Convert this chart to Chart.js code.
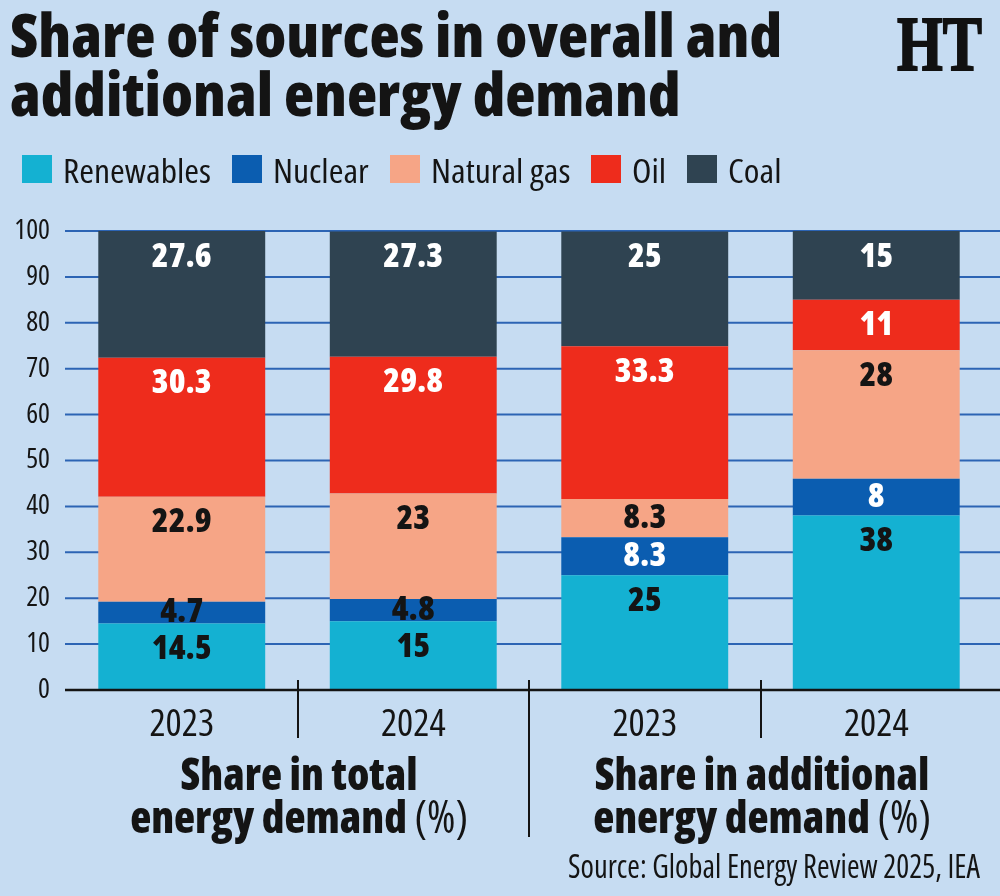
<!DOCTYPE html>
<html>
<head>
<meta charset="utf-8">
<script src="https://cdn.jsdelivr.net/npm/chart.js@4.4.1/dist/chart.umd.min.js"></script>
<style>
  html, body { margin: 0; padding: 0; background: #c6dcf2; }
  #wrap {
    position: relative; width: 1000px; height: 896px; overflow: hidden;
    background: #c6dcf2; color: #141414;
    font-family: "Open Sans", "Noto Sans", "Liberation Sans", sans-serif;
    font-stretch: condensed;
  }
  #chart { position: absolute; left: 0; top: 0; }
  .abs { position: absolute; white-space: nowrap; }
  .title { left: 10px; top: 0; font-weight: 800; font-size: 60px; line-height: 59px; transform-origin: left top; }
  .title span.line, .group span.line { display: block; }
  .logo { left: 897px; top: 0; font-family: "Liberation Serif", "DejaVu Serif", serif; font-weight: bold;
          font-size: 60px; line-height: 60px; color: #111; font-stretch: normal; -webkit-text-stroke: 1.5px #111; }
  .legend { left: 22px; top: 155px; display: flex; align-items: flex-start; font-size: 33px; line-height: 33px; }
  .legend .item { display: flex; align-items: flex-start; margin-right: 21px; }
  .legend .sw { width: 30px; height: 28px; margin-right: 11px; flex: none; }
  .legend .tw { display: inline-block; overflow: visible; }
  .legend .tx { display: inline-block; transform-origin: left top; }
  .group { top: 0; text-align: center; font-size: 45px; line-height: 43px; font-weight: 800; transform-origin: center top; }
  .group .unit { font-weight: 400; }
  .source { top: 0; font-size: 32px; line-height: 32px; transform-origin: left top; }
  #wrap .mk { display: inline-block; width: 0; height: 0; vertical-align: baseline; }
</style>
</head>
<body>
<div id="wrap">
  <canvas id="chart" width="1000" height="896"></canvas>
</div>
<script>
// ---------- data ----------
const categories = ['2023', '2024', '2023', '2024'];
const groupOf = [0, 0, 1, 1];
const groupTitles = ['Share in total', 'Share in additional'];
const groupSubtitle = 'energy demand';
const groupUnit = '(%)';

const seriesNames = ['Renewables', 'Nuclear', 'Natural gas', 'Oil', 'Coal'];
const renewables = [14.5, 15, 25, 38];
const nuclear    = [4.7, 4.8, 8.3, 8];
const naturalGas = [22.9, 23, 8.3, 28];
const oil        = [30.3, 29.8, 33.3, 11];
const coal       = [27.6, 27.3, 25, 15];

const yTicks = { min: 0, max: 100, step: 10 };

const titleLines = ['Share of sources in overall and', 'additional energy demand'];
const sourceText = 'Source: Global Energy Review 2025, IEA';
const logoText = 'HT';

// ---------- styles ----------
const seriesColors = ['#14b1d2', '#0b5db0', '#f6a586', '#ee2c1c', '#2f4351'];
const labelLight = [false, true, false, true, true];
const GRID = '#2c64b4';
const INK = '#141414';
const TICKFONT = '"Open Sans", "Liberation Sans", sans-serif';
const LABELFONT = '800 semi-condensed 34px "Open Sans", Roboto, sans-serif';

const seriesValues = [renewables, nuclear, naturalGas, oil, coal];
const wrap = document.getElementById('wrap');

// helpers
function el(tag, cls, parent) { const e = document.createElement(tag); if (cls) e.className = cls; (parent || wrap).appendChild(e); return e; }
function baselineOf(host) {
  const m = document.createElement('span'); m.className = 'mk';
  host.insertBefore(m, host.firstChild);
  const y = m.getBoundingClientRect().top - wrap.getBoundingClientRect().top;
  m.remove(); return y;
}
function setBaseline(node, target, host) {
  const b = baselineOf(host || node);
  node.style.top = (parseFloat(node.style.top || 0) + target - b) + 'px';
}

const gridPlugin = {
  id: 'gridPlugin',
  beforeDatasetsDraw(chart) {
    const { ctx, scales: { y } } = chart;
    ctx.save();
    ctx.strokeStyle = GRID; ctx.lineWidth = 2;
    y.ticks.forEach(t => {
      if (t.value === yTicks.min) return;
      const py = y.getPixelForValue(t.value);
      ctx.beginPath(); ctx.moveTo(65, py); ctx.lineTo(1000, py); ctx.stroke();
    });
    ctx.restore();
  },
  afterDatasetsDraw(chart) {
    const { ctx, scales: { x, y } } = chart;
    ctx.save();
    const p0 = y.getPixelForValue(yTicks.min);
    ctx.strokeStyle = INK; ctx.lineWidth = 2.5;
    ctx.beginPath(); ctx.moveTo(65, p0); ctx.lineTo(1000, p0); ctx.stroke();
    ctx.lineWidth = 2;
    for (let i = 0; i < categories.length - 1; i++) {
      const xm = Math.round((x.getPixelForValue(i) + x.getPixelForValue(i + 1)) / 2);
      const major = groupOf[i] !== groupOf[i + 1];
      ctx.beginPath(); ctx.moveTo(xm, p0 - 10); ctx.lineTo(xm, major ? p0 + 147 : p0 + 48); ctx.stroke();
    }
    ctx.font = LABELFONT;
    ctx.textAlign = 'center'; ctx.textBaseline = 'middle';
    chart.data.datasets.forEach((ds, di) => {
      const meta = chart.getDatasetMeta(di);
      meta.data.forEach((bar, i) => {
        const top = Math.min(bar.y, bar.base);
        const h = Math.abs(bar.base - bar.y);
        const ty = top + Math.min(26, h / 2);
        ctx.fillStyle = (labelLight[di] && h >= 30) ? '#ffffff' : INK;
        ctx.fillText(String(ds.data[i]), bar.x, ty);
      });
    });
    ctx.restore();
  }
};

const chart = new Chart(document.getElementById('chart'), {
  type: 'bar',
  data: {
    labels: categories,
    datasets: seriesNames.map((n, i) => ({
      label: n, data: seriesValues[i], backgroundColor: seriesColors[i],
      borderWidth: 0, barPercentage: 0.721, categoryPercentage: 1.0
    }))
  },
  options: {
    responsive: false, animation: false, devicePixelRatio: 1,
    layout: { padding: { top: 231, right: 8, bottom: 0, left: 0 } },
    plugins: { legend: { display: false }, tooltip: { enabled: false } },
    scales: {
      x: {
        stacked: true,
        grid: { display: false, drawTicks: false }, border: { display: false },
        ticks: { color: INK, font: { family: TICKFONT, size: 38, weight: 'condensed' }, padding: 12, maxRotation: 0, autoSkip: false },
        afterFit(s) { s.height = 206; }
      },
      y: {
        stacked: true, min: yTicks.min, max: yTicks.max,
        grid: { display: false, drawTicks: false }, border: { display: false },
        ticks: { stepSize: yTicks.step, color: INK, font: { family: TICKFONT, size: 28, weight: 'condensed' }, padding: 16 },
        afterFit(s) { s.width = 66; }
      }
    }
  },
  plugins: [gridPlugin]
});

// ---------- title ----------
const title = el('div', 'abs title');
titleLines.forEach(t => { const s = el('span', 'line', title); s.textContent = t; });
{
  const l1 = title.firstChild;
  l1.style.display = 'inline-block';
  const w = l1.getBoundingClientRect().width;
  l1.style.display = '';
  title.style.transform = `scaleX(${772 / w})`;
  setBaseline(title, 57, l1);
}

// ---------- logo ----------
const logo = el('div', 'abs logo'); logo.textContent = logoText;
{
  setBaseline(logo, 70);
  const r = logo.getBoundingClientRect();
  const b = 70 - parseFloat(logo.style.top);
  logo.style.transformOrigin = `0px ${b}px`;
  logo.style.transform = `scale(${85 / r.width}, ${52 / (0.66 * 60)})`;
}

// ---------- legend ----------
const legend = el('div', 'abs legend');
const items = seriesNames.map((n, i) => {
  const it = el('div', 'item', legend);
  const sw = el('div', 'sw', it); sw.style.background = seriesColors[i];
  const tw = el('span', 'tw', it);
  const tx = el('span', 'tx', tw); tx.textContent = n;
  return tx;
});
{
  const sL = 148 / items[0].getBoundingClientRect().width;
  items.forEach(tx => {
    const w = tx.getBoundingClientRect().width;
    tx.parentNode.style.width = (w * sL) + 'px';
    tx.style.transform = `scaleX(${sL})`;
  });
  const b = baselineOf(items[0]);
  legend.style.top = (155 + 183 - b) + 'px';
  legend.querySelectorAll('.sw').forEach(sw => { sw.style.marginTop = (b - 183) + 'px'; });
}

// ---------- group labels ----------
let gScale = null;
groupTitles.forEach((t, g) => {
  const idx = categories.map((c, i) => i).filter(i => groupOf[i] === g);
  const cx = idx.reduce((a, i) => a + chart.scales.x.getPixelForValue(i), 0) / idx.length + 2;
  const d = el('div', 'abs group');
  const l1 = el('span', 'line', d); l1.textContent = t;
  const l2 = el('span', 'line', d);
  l2.appendChild(document.createTextNode(groupSubtitle + ' '));
  const u = el('span', 'unit', l2); u.textContent = groupUnit;
  if (gScale === null) {
    l1.style.display = 'inline-block';
    gScale = 237 / l1.getBoundingClientRect().width;
    l1.style.display = '';
  }
  const w = d.getBoundingClientRect().width;
  d.style.left = (cx - w / 2) + 'px';
  d.style.transform = `scaleX(${gScale})`;
  setBaseline(d, 790, l1);
});

// ---------- source ----------
const src = el('div', 'abs source'); src.textContent = sourceText;
{
  const w = src.getBoundingClientRect().width;
  src.style.left = (980 - 412) + 'px';
  src.style.transform = `scaleX(${412 / w})`;
  setBaseline(src, 878);
}
</script>
</body>
</html>
